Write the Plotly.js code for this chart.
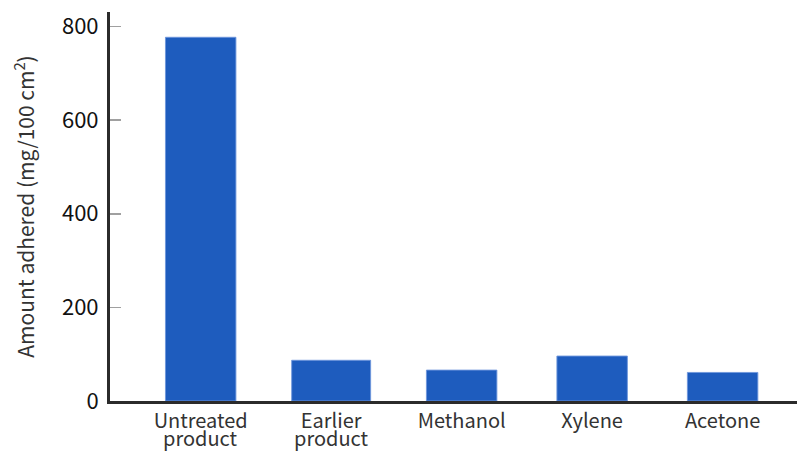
<!DOCTYPE html>
<html>
<head>
<meta charset="utf-8">
<script src="https://cdn.plot.ly/plotly-3.0.1.min.js"></script>
<style>
  html, body { margin: 0; padding: 0; background: #fff; }
  #chart { width: 801px; height: 451px; }
</style>
</head>
<body>
<div id="chart"></div>
<script>
/* Amount adhered by treatment — bar chart */

const categories = ['Untreated product', 'Earlier product', 'Methanol', 'Xylene', 'Acetone'];
const labelLine1 = ['Untreated', 'Earlier', 'Methanol', 'Xylene', 'Acetone'];
const labelLine2 = ['product', 'product', '', '', ''];
const amounts    = [777, 87, 66, 96, 61];
const yTicks     = [0, 200, 400, 600, 800];

const COLORS = {
  bar:     '#1e5cbe',
  barEdge: 'rgba(110,150,220,0.9)',
  axis:    '#2b2b2b',
  tick:    '#a0a0a0',
  text:    '#111111',
  label:   '#333333',
};

const FONT = 'Noto Sans CJK JP, Noto Sans, sans-serif';
const LABEL_FONT = { family: FONT, size: 20, color: COLORS.label };

const trace = {
  type: 'bar',
  x: categories,
  y: amounts,
  width: [0.54, 0.605, 0.54, 0.54, 0.54],
  marker: {
    color: COLORS.bar,
    line: { color: COLORS.barEdge, width: 1 },
  },
  hoverinfo: 'skip',
};

// second line of the two-line category labels, drawn tighter than <br> allows
const secondLines = categories
  .map((c, i) => ({ c: c, t: labelLine2[i] }))
  .filter(d => d.t)
  .map(d => ({
    x: d.c, xref: 'x',
    y: 0, yref: 'paper',
    yanchor: 'top',
    yshift: -20,
    text: d.t,
    showarrow: false,
    font: LABEL_FONT,
  }));

const layout = {
  width: 801,
  height: 451,
  paper_bgcolor: '#fff',
  plot_bgcolor:  '#fff',
  font: { family: FONT, color: COLORS.text },
  margin: { t: 12, r: 4, b: 50, l: 110 },
  showlegend: false,
  xaxis: {
    type: 'category',
    range: [-0.695, 4.57],
    tickvals: categories,
    ticktext: labelLine1,
    showline: true,
    linecolor: COLORS.axis,
    linewidth: 3,
    ticks: '',
    showgrid: false,
    zeroline: false,
    tickfont: LABEL_FONT,
  },
  yaxis: {
    range: [0, 831],
    tickvals: yTicks,
    ticktext: yTicks.map(String),
    ticks: 'inside',
    ticklen: 11,
    tickwidth: 1.5,
    tickcolor: COLORS.tick,
    ticklabelstandoff: 4,
    showline: true,
    linecolor: COLORS.axis,
    linewidth: 3,
    showgrid: false,
    zeroline: false,
    tickfont: { family: FONT, size: 22, color: COLORS.text },
    title: {
      text: 'Amount adhered (mg/100 cm<sup>2</sup>)',
      font: { family: FONT, size: 21, color: COLORS.label },
      standoff: 22,
    },
  },
  annotations: secondLines,
};

Plotly.newPlot('chart', [trace], layout, { displayModeBar: false, staticPlot: true });
</script>
</body>
</html>
